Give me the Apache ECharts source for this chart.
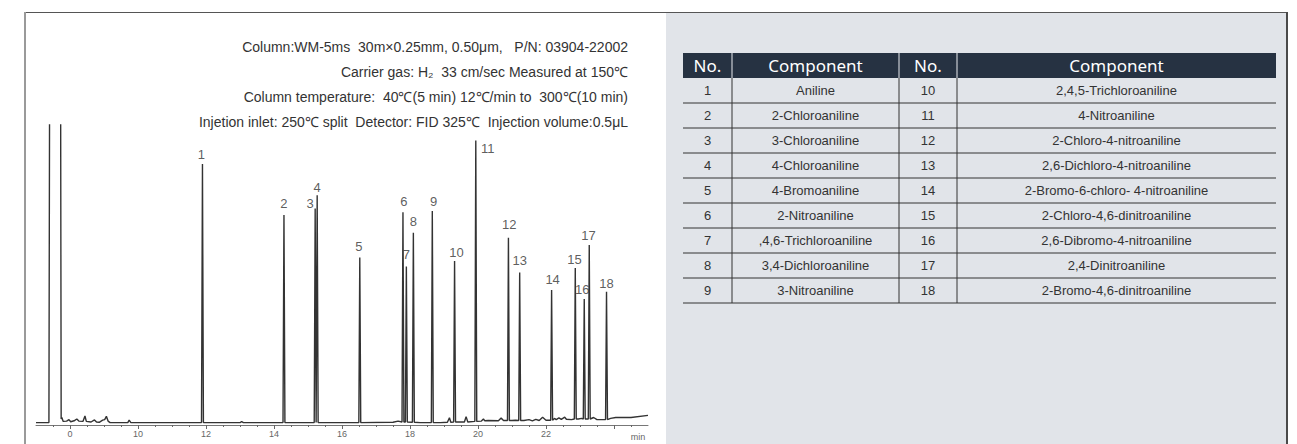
<!DOCTYPE html>
<html><head><meta charset="utf-8">
<script src="https://cdn.jsdelivr.net/npm/echarts@6/dist/echarts.min.js"></script>
<style>html,body{margin:0;padding:0;background:#fff}#c{width:1297px;height:444px}</style>
</head><body><div id="c"></div>
<script>
// ---------------- data ----------------
const peakNo = ['1','2','3','4','5','6','7','8','9','10','11','12','13','14','15','16','17','18'];
const peakTime = [11.896, 14.293, 15.211, 15.270, 16.523, 17.793, 17.893, 18.099, 18.656, 19.311, 19.935, 20.895, 21.226, 22.165, 22.861, 23.125, 23.272, 23.780];
const peakHeight = [87.0, 70.0, 72.2, 76.6, 55.8, 70.9, 52.8, 64.1, 71.3, 54.7, 94.8, 62.4, 50.8, 45.0, 52.3, 42.0, 60.0, 44.4];
const peakBase = [0.8, 0.8, 0.8, 0.8, 0.8, 1.0, 1.0, 0.9, 0.8, 1.0, 1.2, 1.5, 1.5, 1.6, 2.0, 2.0, 2.0, 1.8];
// solvent peak (off scale): rise time, fall time
const solventTime = [7.40, 7.725];
const solventLevel = 140;
// baseline points [min, signal]
const baseline = [
  [7.0,0.8],[7.38,0.8],
  [7.76,2.5],[7.80,1.2],[7.90,1.3],[7.97,1.8],[8.02,1.1],[8.12,1.4],[8.20,2.0],[8.26,1.3],[8.38,1.2],
  [8.44,3.0],[8.48,1.2],[8.62,1.0],[8.72,1.7],[8.78,1.0],[8.86,0.9],[8.96,1.6],[9.02,1.8],[9.07,2.9],
  [9.12,1.3],[9.18,0.8],[9.70,0.8],[9.74,1.6],[9.79,0.8],[11.0,0.8],[13.0,0.8],[13.05,1.1],[13.1,0.8],
  [16.0,0.8],[17.5,0.9],[17.65,1.3],[18.3,0.8],[18.9,0.8],[19.1,0.9],[19.16,2.4],[19.2,0.9],[19.6,1.0],
  [19.65,2.8],[19.7,1.0],[20.1,1.3],[20.16,2.0],[20.2,1.4],[20.3,1.5],[20.6,1.4],[20.68,2.3],[20.75,1.5],
  [21.0,1.5],[21.1,1.6],[21.35,1.5],[21.5,1.8],[21.6,1.4],[21.7,1.9],[21.8,1.5],[21.9,2.6],[22.0,1.6],
  [22.1,1.6],[22.25,2.2],[22.3,1.8],[22.38,2.4],[22.45,1.9],[22.55,2.6],[22.6,1.9],[22.75,1.8],[22.95,2.0],
  [23.05,2.2],[23.2,2.0],[23.4,2.5],[23.5,1.8],[23.7,1.8],[23.9,2.2],[24.05,2.5],[24.5,2.5],[25.0,3.2]
];
const tickValues = [8, 10, 12, 14, 16, 18, 20, 22];
const tickLabels = ['0', '10', '12', '14', '16', '18', '20', '22'];
const xUnit = 'min';
const conditions = [
  'Column:WM-5ms  30m×0.25mm, 0.50μm,   P/N: 03904-22002',
  'Carrier gas: H₂  33 cm/sec Measured at 150℃',
  'Column temperature:  40℃(5 min) 12℃/min to  300℃(10 min)',
  'Injetion inlet: 250℃ split  Detector: FID 325℃  Injection volume:0.5μL'
];
const tableHeader = ['No.', 'Component', 'No.', 'Component'];
const leftNo = ['1','2','3','4','5','6','7','8','9'];
const leftComp = ['Aniline','2-Chloroaniline','3-Chloroaniline','4-Chloroaniline','4-Bromoaniline','2-Nitroaniline',',4,6-Trichloroaniline','3,4-Dichloroaniline','3-Nitroaniline'];
const rightNo = ['10','11','12','13','14','15','16','17','18'];
const rightComp = ['2,4,5-Trichloroaniline','4-Nitroaniline','2-Chloro-4-nitroaniline','2,6-Dichloro-4-nitroaniline','2-Bromo-6-chloro- 4-nitroaniline','2-Chloro-4,6-dinitroaniline','2,6-Dibromo-4-nitroaniline','2,4-Dinitroaniline','2-Bromo-4,6-dinitroaniline'];

// ---------------- styles / layout ----------------
const labelOffset = [[-1,-10],[0,-12],[-5,-5],[0,-8],[-1,-11],[1,-10.6],[0,-11.7],[0,-11],[1.3,-10],[2,-8.3],[12,7.6],[0.7,-13.4],[0,-12],[1,-10.7],[-0.7,-8.7],[-2,-9.7],[-0.7,-10],[0,-8.4]];
const HW = 0.028;
const condFont = '14px "Liberation Sans", Arial, sans-serif';

// build trace
const pts = baseline.slice();
pts.push([solventTime[0] - 0.015, 0.8], [solventTime[0] + 0.005, solventLevel], [solventTime[1] - 0.005, solventLevel], [solventTime[1] + 0.015, 2.0]);
peakTime.forEach((t, i) => {
  pts.push([t - HW, peakBase[i]], [t, peakHeight[i]], [t + HW, peakBase[i]]);
});
pts.sort((a, b) => a[0] - b[0]);

const halfTicks = [];
for (let v = 7.5; v < 25; v += 0.5) halfTicks.push(v);

const graphics = [];
// frame
graphics.push({type:'rect', z:0, shape:{x:666, y:13, width:621, height:431}, style:{fill:'#e1e4e9'}, silent:true});
graphics.push({type:'line', z:5, shape:{x1:24, y1:12.5, x2:1288, y2:12.5}, style:{stroke:'#555', lineWidth:1}});
graphics.push({type:'line', z:5, shape:{x1:25, y1:12, x2:25, y2:444}, style:{stroke:'#9a9a9a', lineWidth:2}});
graphics.push({type:'line', z:5, shape:{x1:1287, y1:12, x2:1287, y2:444}, style:{stroke:'#4a4a4a', lineWidth:2}});
const condY = [46.5, 71.5, 97, 122];
conditions.forEach((s, i) => {
  graphics.push({type:'text', z:5, style:{text:s, x:628, y:condY[i], font:condFont, fill:'#333', textAlign:'right', textVerticalAlign:'middle'}});
});
graphics.push({type:'text', z:5, style:{text:xUnit, x:638, y:437, font:'9px "Liberation Sans", Arial, sans-serif', fill:'#666', textAlign:'center', textVerticalAlign:'middle'}});
// table
const colX = [683, 732, 899, 957, 1276];
const headTop = 53, headH = 25, rowH = 25;
graphics.push({type:'rect', z:2, shape:{x:colX[0], y:headTop, width:colX[4]-colX[0], height:headH}, style:{fill:'#263242'}});
tableHeader.forEach((h, i) => {
  graphics.push({type:'text', z:4, style:{text:h, x:(colX[i]+colX[i+1])/2, y:headTop+headH/2, font:'17px "Noto Sans", sans-serif', fill:'#fff', textAlign:'center', textVerticalAlign:'middle'}});
});
const nRows = leftNo.length;
const tableBottom = headTop + headH + nRows*rowH;
for (let k = 1; k <= 3; k++) {
  graphics.push({type:'line', z:3, shape:{x1:colX[k], y1:headTop, x2:colX[k], y2:headTop+headH}, style:{stroke:'#e8eaee', lineWidth:1}});
  graphics.push({type:'line', z:3, shape:{x1:colX[k], y1:headTop+headH, x2:colX[k], y2:tableBottom}, style:{stroke:'#333', lineWidth:1}});
}
for (let r = 0; r < nRows; r++) {
  const yc = headTop + headH + r*rowH + rowH/2;
  const cells = [leftNo[r], leftComp[r], rightNo[r], rightComp[r]];
  cells.forEach((s, i) => {
    graphics.push({type:'text', z:4, style:{text:s, x:(colX[i]+colX[i+1])/2, y:yc, font:'13px "Liberation Sans", Arial, sans-serif', fill:'#333', textAlign:'center', textVerticalAlign:'middle'}});
  });
  const yl = headTop + headH + (r+1)*rowH;
  graphics.push({type:'line', z:3, shape:{x1:colX[0], y1:yl, x2:colX[4], y2:yl}, style:{stroke:'#333', lineWidth:1}});
}

const chart = echarts.init(document.getElementById('c'), null, {renderer:'svg'});
chart.setOption({
  animation: false,
  backgroundColor: '#fff',
  grid: {left: 36, right: 649, top: 125, bottom: 19},
  xAxis: [{
    type:'value', min:7, max:25, position:'bottom',
    axisLine:{show:true, lineStyle:{color:'#777', width:1}},
    axisTick:{show:true, length:4, customValues:[8,10,12,14,16,18,20,22,24], lineStyle:{color:'#666'}},
    axisLabel:{show:true, customValues:tickValues, margin:4, fontSize:9, color:'#666', fontFamily:'"Liberation Sans", Arial, sans-serif',
      formatter: v => { const i = tickValues.findIndex(t => Math.abs(t - v) < 1e-6); return i >= 0 ? tickLabels[i] : ''; }},
    splitLine:{show:false}
  }, {
    type:'value', min:7, max:25, position:'bottom', gridIndex:0,
    axisLine:{show:false}, axisLabel:{show:false}, splitLine:{show:false},
    axisTick:{show:true, length:2, customValues:halfTicks, lineStyle:{color:'#666'}}
  }],
  yAxis: {type:'value', min:0, max:100, show:false},
  series: [{
    type:'line', xAxisIndex:0, data: pts, showSymbol:false, symbol:'none', clip:true,
    lineStyle:{color:'#333', width:1.4}, z:3
  }, {
    type:'scatter', xAxisIndex:0, symbolSize:0, z:4,
    data: peakTime.map((t, i) => ({value:[t, peakHeight[i]], label:{offset:labelOffset[i]}})),
    label:{show:true, position:'inside', fontSize:13, color:'#333', fontFamily:'"Liberation Sans", Arial, sans-serif',
      formatter: p => peakNo[p.dataIndex]}
  }],
  graphic: graphics
});
</script></body></html>
